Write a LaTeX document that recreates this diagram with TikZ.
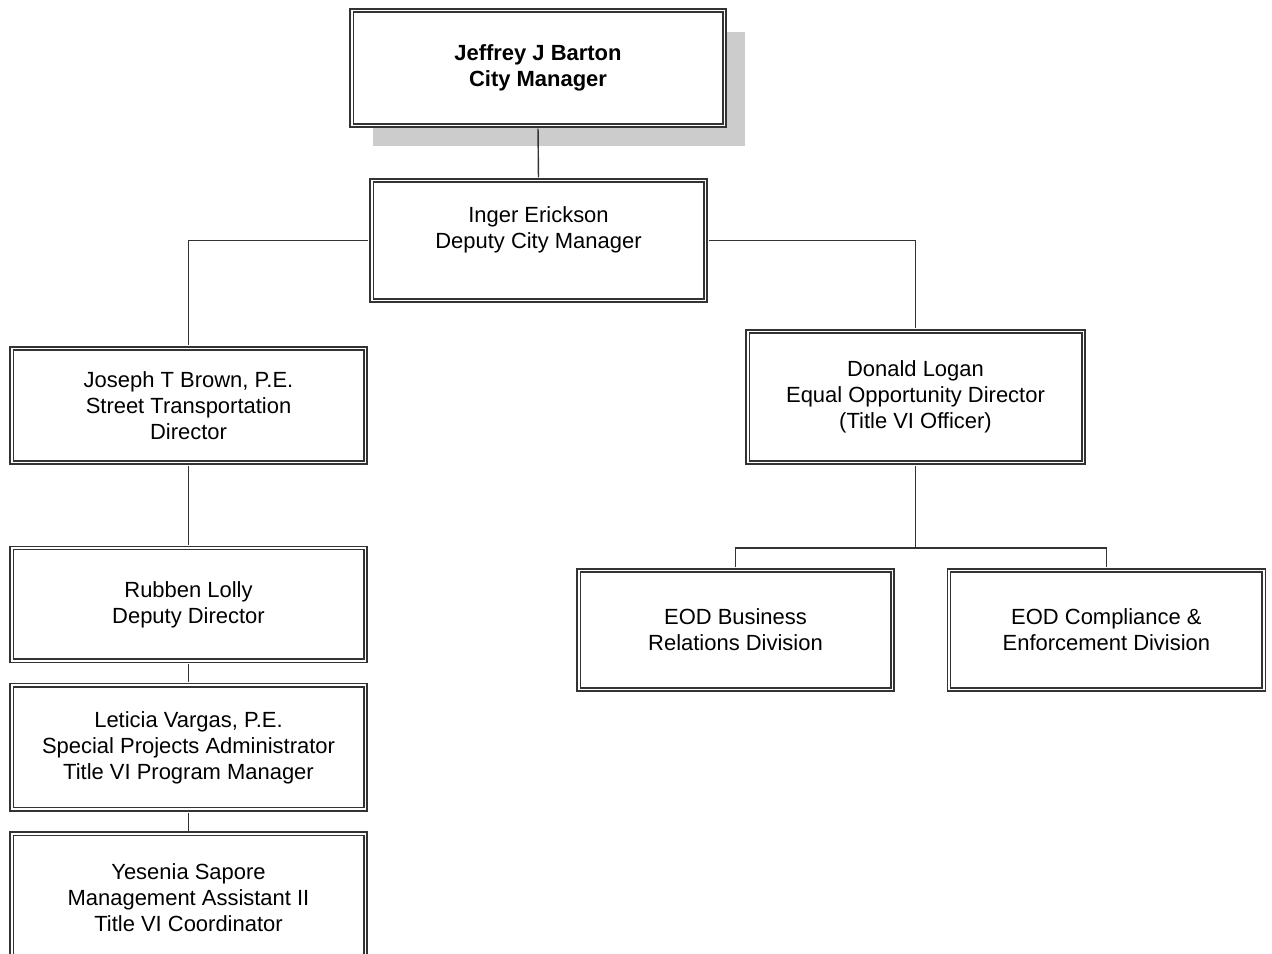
\documentclass[tikz,border=0pt]{standalone}
\usepackage{fontspec}
\setmainfont{Liberation Sans}
\usetikzlibrary{positioning,shadows}

\begin{document}
\begin{tikzpicture}[
    x=0.02cm, y=-0.02cm,
    node distance=0.46cm,
    every node/.style={font=\fontsize{12.5}{14.8}\selectfont},
    post/.style={draw=black!80, line width=0.85pt, double=white, double distance=1.1pt, fill=white, align=center, minimum width=7.08cm, minimum height=2.28cm},
    top/.style={post, drop shadow={shadow xshift=0.42cm, shadow yshift=-0.42cm, fill=black!20, opacity=1}},
    link/.style={draw=black!80, line width=0.8pt, shorten <=1.4pt, shorten >=1.4pt}
]
\useasboundingbox (0,0) rectangle (1272,954);
\node[top, minimum width=7.46cm, minimum height=2.3cm] (barton) at (538,68) {\textbf{Jeffrey J Barton}\\\textbf{City Manager}};
\node[post, minimum width=6.68cm, minimum height=2.4cm] (erickson) at (538.5,240.5) {Inger Erickson\\Deputy City Manager\\\mbox{}};
\node[post] (brown) at (188.5,405.5) {Joseph T Brown, P.E.\\Street Transportation\\Director};
\node[post, minimum width=6.72cm, minimum height=2.62cm] (logan) at (915.5,397) {Donald Logan\\Equal Opportunity Director\\(Title VI Officer)};
\node[post, minimum height=2.26cm, below=1.68cm of brown] (lolly) {Rubben Lolly\\Deputy Director};
\node[post, minimum height=2.48cm, below=of lolly] (vargas) {Leticia Vargas, P.E.\\Special Projects Administrator\\Title VI Program Manager};
\node[post, minimum height=2.54cm, below=of vargas] (sapore) {Yesenia Sapore\\Management Assistant II\\Title VI Coordinator};
\node[post, minimum width=6.28cm, minimum height=2.38cm] (business) at (735.5,630) {EOD Business\\Relations Division};
\node[post, minimum width=6.3cm, minimum height=2.38cm, right=1.1cm of business] (compliance) {EOD Compliance \&\\Enforcement Division};
\coordinate (split) at (915.5,548);
% reporting lines
\draw[link] (barton.south) -- (erickson.north);
\draw[link] (erickson.west) -| (brown.north);
\draw[link] (erickson.east) -| (logan.north);
\draw[link] (brown.south) -- (lolly.north);
\draw[link] (lolly.south) -- (vargas.north);
\draw[link] (vargas.south) -- (sapore.north);
\draw[link, shorten >=0pt] (logan.south) -- (split);
\draw[link] (business.north) |- (split) -| (compliance.north);
\end{tikzpicture}
\end{document}
